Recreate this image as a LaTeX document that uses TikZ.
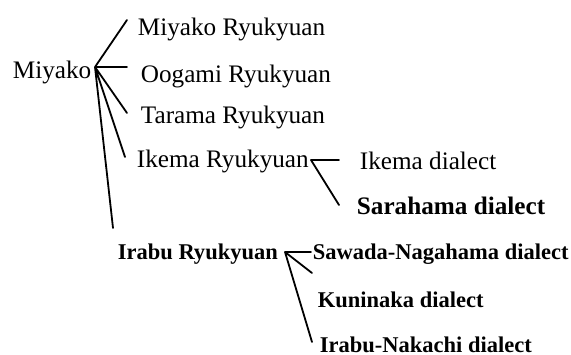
\documentclass[tikz,border=0pt]{standalone}
\usepackage{fontspec}
\setmainfont{Liberation Serif}
\usetikzlibrary{calc}
\tikzstyle{every path}=[line width=0.9pt,line cap=round,line join=round]
\tikzstyle{lang}=[inner sep=0pt,anchor=base west,font=\fontsize{12.6}{15}\selectfont]
\tikzstyle{langbf}=[lang,font=\fontsize{12.6}{15}\selectfont\bfseries]
\tikzstyle{dia}=[lang,font=\fontsize{11.25}{14}\selectfont\bfseries]

\begin{document}
\begin{tikzpicture}[x=0.5pt,y=-0.5pt]
    \useasboundingbox (0,0) rectangle (571,354);

    % Root and its branches
    \node[lang] (miyako) at (12,78) {Miyako};
    \node[lang] (miyakoR) at (137,35) {Miyako Ryukyuan};
    \node[lang] (oogami) at (140,82) {Oogami Ryukyuan};
    \node[lang] (tarama) at (140,123) {Tarama Ryukyuan};
    \node[lang] (ikema) at (136,167) {Ikema Ryukyuan};
    \node[dia] (irabu) at (117,259) {Irabu Ryukyuan};

    % Dialects of Ikema
    \node[lang] (ikemaD) at (359,169) {Ikema dialect};
    \node[langbf] (sarahama) at (356,214) {Sarahama dialect};

    % Dialects of Irabu
    \node[dia] (sawada) at (312,259) {Sawada-Nagahama dialect};
    \node[dia] (kuninaka) at (317,307) {Kuninaka dialect};
    \node[dia] (nakachi) at (319,352) {Irabu-Nakachi dialect};

    % Branch points and line ends
    \coordinate (jMiyako) at (95,67);
    \coordinate (jIkema) at (311,160);
    \coordinate (jIrabu) at (285,252);

    \draw (jMiyako) -- (127,20) coordinate (tMiyakoR)
    (jMiyako) -- (127,67) coordinate (tOogami)
    (jMiyako) -- (127,113) coordinate (tTarama)
    (jMiyako) -- (125,157) coordinate (tIkema)
    (jMiyako) -- (113,228) coordinate (tIrabu);

    \draw (jIkema) -- (339,160) coordinate (tIkemaD)
    (jIkema) -- (339,205) coordinate (tSarahama);

    \draw (jIrabu) -- (311,252) coordinate (tSawada)
    (jIrabu) -- (312,273) coordinate (tKuninaka)
    (jIrabu) -- (312,342) coordinate (tNakachi);
\end{tikzpicture}
\end{document}
